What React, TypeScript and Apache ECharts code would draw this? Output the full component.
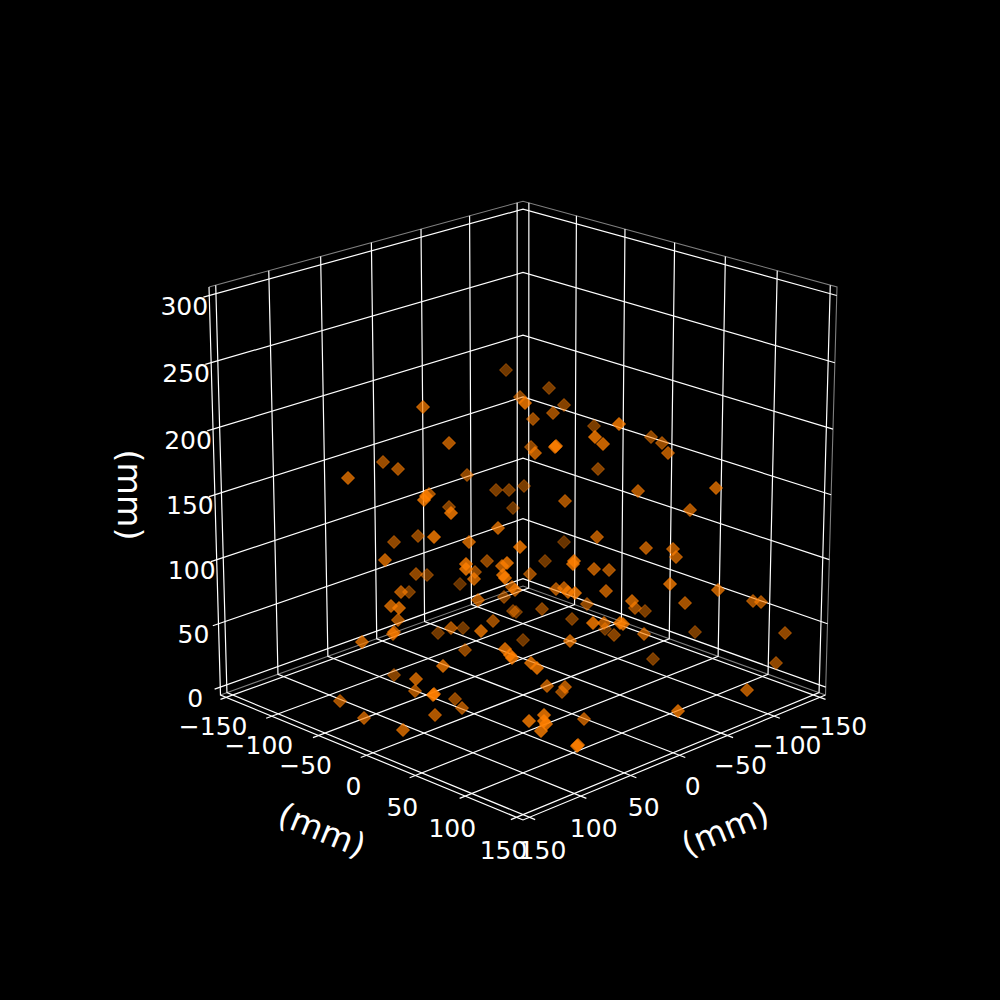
import React, { useEffect, useRef } from "react";
import * as echarts from "echarts";

const xTicks = [-150, -100, -50, 0, 50, 100, 150];
const yTicks = [-150, -100, -50, 0, 50, 100, 150];
const zTicks = [0, 50, 100, 150, 200, 250, 300];
const axisTitle = "(mm)";

// Marks (the original's 3D scatter, in its drawn plane)
const pointX = [506,520,525,423,449,383,398,348,467,496,509,524,429,426,424,449,451,513,498,418,434,394,469,520,385,487,466,466,475,474,502,507,503,505,416,427,460,401,409,512,515,478,504,391,399,398,513,516,493,451,463,
  549,564,553,533,594,619,595,603,651,662,668,531,535,555,556,598,638,716,565,690,597,564,646,673,676,545,573,574,594,609,530,670,556,564,568,575,606,587,632,635,645,685,718,753,761,572,542,593,604,623,620,695,785,776,747,678,653,644,
  362,393,394,438,481,523,465,505,510,512,443,531,537,394,416,415,433,434,455,462,435,340,364,403,547,565,562,570,605,614,584,529,544,544,546,541,577,578];
const pointY = [370,397,403,407,443,462,469,478,475,490,490,486,494,496,500,507,513,508,528,536,537,542,542,547,560,561,564,569,572,579,566,563,575,578,574,575,584,592,592,587,590,600,597,606,608,620,611,612,621,628,628,
  388,405,413,419,426,424,437,444,437,443,453,447,453,447,446,469,491,488,501,510,537,542,548,549,557,561,564,561,569,570,574,584,589,588,592,593,591,604,601,608,611,603,590,601,602,619,609,623,623,624,623,632,633,663,690,711,659,634,
  642,634,632,633,631,640,650,649,655,658,666,663,668,675,679,691,695,694,699,708,715,701,718,730,686,687,692,641,629,635,719,721,715,721,724,731,746,745];
const pointShade = [.55,.7,1,.9,.85,.75,.8,.9,.7,.6,.6,.6,.8,1,1,.65,1,.55,.9,.7,1,.7,.9,1,.9,.7,1,1,.7,.9,.9,1,1,1,.7,.6,.5,.85,.6,.8,.8,.85,.65,.9,.95,.8,.6,.55,.75,.8,.55,
  .6,.65,.75,.75,.6,1,1,.95,.7,.75,.85,.7,.9,1,1,.65,.85,.9,.8,.85,.85,.5,.85,.85,.85,.55,1,1,.85,.8,.75,.95,.8,.85,.9,1,.85,.7,.9,.75,.6,.8,.9,.8,.8,.6,.65,1,.85,.95,.95,.6,.7,.7,.85,.95,.6,.85,
  .9,.85,.85,.55,.95,.55,.7,.95,1,1,.95,.95,1,.65,.9,.8,1,1,.7,.8,.85,.8,.85,.9,.85,.85,.75,.9,.55,.65,.85,1,1,1,1,1,1,1];

// Camera of the 3D box: maps box coordinates (each -1..1) to the page plane
const boxHalf = 156.25;
const A = 154.07, PU = -0.0348, PZ = -0.01864, C = 494.8, D = 35.1, E = -213.15, CX = 523;
const project = (u: number, v: number, z: number): [number, number] => {
  const s = u + v;
  const w = 1 + PU * s + PZ * z;
  return [CX + (A * (u - v)) / w, (C + D * s + E * z) / w];
};
const nu = (t: number) => t / boxHalf;
const nz = (t: number) => (t - 150) / boxHalf;
const TICK = 1.035;

const WHITE = "#ffffff";
const EDGE = "#7f7f7f";
const ORANGE = "255,127,0";

const pathSeries = (pts: [number, number, number][], color: string, width = 1.2) => ({
  type: "line" as const,
  silent: true,
  showSymbol: false,
  symbol: "none",
  z: 1,
  lineStyle: { color, width, cap: "butt", join: "miter" },
  data: pts.map((p) => project(p[0], p[1], p[2])),
});

const label = (t: number) => String(t).replace("-", "\u2212");

const buildOption = () => {
  const series: any[] = [];
  // pane edges
  series.push(pathSeries([[-1, 1, 1], [-1, -1, 1], [1, -1, 1], [1, -1, -1]], EDGE, 1.1));
  series.push(pathSeries([[-1, 1, -1], [-1, -1, -1], [1, -1, -1]], EDGE, 1.1));
  // grid lines
  xTicks.forEach((t) => series.push(pathSeries([[nu(t), TICK, -1], [nu(t), -1, -1], [nu(t), -1, 1]], WHITE)));
  yTicks.forEach((t) => series.push(pathSeries([[TICK, nu(t), -1], [-1, nu(t), -1], [-1, nu(t), 1]], WHITE)));
  zTicks.forEach((t) => series.push(pathSeries([[-1, TICK, nz(t)], [-1, -1, nz(t)], [1, -1, nz(t)]], WHITE)));
  // axis lines
  series.push(pathSeries([[-1, 1, 1], [-1, 1, -1], [1, 1, -1], [1, -1, -1]], WHITE));

  const order = pointX.map((_, i) => i).sort((a, b) => pointShade[a] - pointShade[b]);
  series.push({
    type: "scatter",
    symbol: "diamond",
    symbolSize: 13,
    silent: true,
    z: 3,
    data: order.map((i) => {
      const c = `rgba(${ORANGE},${pointShade[i]})`;
      return {
        value: [pointX[i], pointY[i]],
        itemStyle: { color: c, borderColor: c, borderWidth: 1 },
      };
    }),
  });

  const tickFont = '25px "DejaVu Sans"';
  const text = (s: string, p: [number, number], font: string, rotation = 0) => ({
    type: "text" as const,
    x: p[0],
    y: p[1],
    rotation,
    z: 10,
    silent: true,
    style: { text: s, fill: WHITE, font, align: "center", verticalAlign: "middle" },
  });
  const shift = (p: [number, number], dx: number, dy: number): [number, number] => [p[0] + dx, p[1] + dy];
  const graphics: any[] = [];
  xTicks.forEach((t) => graphics.push(text(label(t), shift(project(nu(t), 1, -1), -13, 31 + nu(t) * 2), tickFont)));
  yTicks.forEach((t) => graphics.push(text(label(t), shift(project(1, nu(t), -1), 13, 31 + nu(t) * 2), tickFont)));
  zTicks.forEach((t) => graphics.push(text(label(t), shift(project(-1, 1, nz(t)), -25, 11), tickFont)));
  const titleFont = '33.3px "DejaVu Sans"';
  graphics.push(text(axisTitle, [322, 830], titleFont, -0.39));
  graphics.push(text(axisTitle, [725, 829], titleFont, 0.39));
  graphics.push(text(axisTitle, [129, 495], titleFont, -Math.PI / 2));

  return {
    animation: false,
    backgroundColor: "#000000",
    grid: { left: 0, right: 0, top: 0, bottom: 0 },
    xAxis: { type: "value", min: 0, max: 1000, show: false },
    yAxis: { type: "value", min: 0, max: 1000, inverse: true, show: false },
    series,
    graphic: { elements: graphics },
  };
};

export default function App() {
  const ref = useRef<HTMLDivElement>(null);
  useEffect(() => {
    const chart = echarts.init(ref.current!, undefined, { renderer: "svg" });
    chart.setOption(buildOption() as any);
    return () => chart.dispose();
  }, []);
  return (
    <div
      ref={ref}
      style={{ position: "absolute", left: 0, top: 0, width: 1000, height: 1000, background: "#000" }}
    />
  );
}
